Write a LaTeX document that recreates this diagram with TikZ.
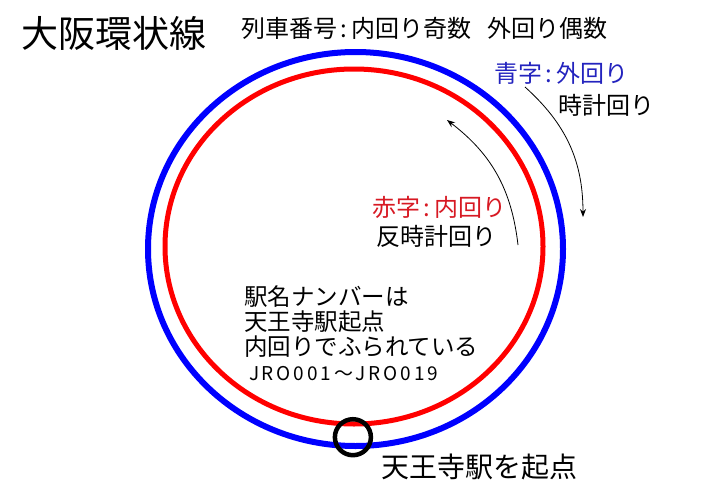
\documentclass[tikz,border=0pt]{standalone}
\usepackage{fontspec}
\setmainfont{Noto Sans CJK JP}
\usetikzlibrary{positioning}
\usetikzlibrary{arrows.meta, calc, shapes}
\definecolor{outerblue}{RGB}{35,35,190}
\definecolor{innerred}{RGB}{215,25,35}

\begin{document}
\begin{tikzpicture}
  [
    x=1pt, y=1pt,
    every node/.style={inner sep=0pt, outer sep=0pt},
    align=left
  ]
      \tikzset{
        >={Stealth[length=8pt,width=6pt]},
        base/.style = {anchor=west, font=\fontsize{24}{25}\selectfont},
        titlestyle/.style = {base, font=\fontsize{37}{40}\selectfont},
        headerstyle/.style = {base},
        outerstyle/.style = {base, text=outerblue},
        innerstyle/.style = {base, text=innerred},
        notestyle/.style = {base, anchor=north west, font=\fontsize{23.5}{25}\selectfont},
        numberstyle/.style = {base, font=\fontsize{19}{20}\selectfont\addfontfeature{LetterSpace=15}},
        loopstyle/.style = {ellipse, draw, inner sep=0pt},
        markerstyle/.style = {circle, draw=black, line width=4.5pt, minimum size=36pt},
        dirarrow/.style = {->, line width=0.8pt},
    }
    \useasboundingbox (0,0) rectangle (720,-490);

    % the two loops
    \node (outerloop) [loopstyle, draw=blue, line width=6pt, minimum width=415pt, minimum height=394pt] at (355.5,-249) {};
    \node (innerloop) [loopstyle, draw=red, line width=5pt, minimum width=378pt, minimum height=355pt] at (354,-246.5) {};
    \node (tennoji) [markerstyle] at ($(outerloop.south)!0.4!(innerloop.south)+(-2,0)$) {};

    \node (title) [titlestyle] at (21,-33) {大阪環状線};
    \node (trainno) [headerstyle] at (241,-28) {列車番号\,:\,内回り奇数\hspace{0.65em}外回り偶数};

    \node (outerlabel) [outerstyle] at (494,-73) {青字\,:\,外回り};
    \node (clockwise) [base, below right=10pt and 64pt of outerlabel.south west] {時計回り};
    \node (innerlabel) [innerstyle] at (372,-207) {赤字\,:\,内回り};
    \node (anticlockwise) [base, below right=7pt and 4pt of innerlabel.south west] {反時計回り};

    \node (notice) [notestyle] at (244,-286) {駅名ナンバーは\\天王寺駅起点\\内回りでふられている};
    \node (numbering) [numberstyle, below right=8.5pt and 5pt of notice.south west] {JRO001～JRO019};
    \node (startlabel) [base, font=\fontsize{28}{30}\selectfont] at (381,-467) {天王寺駅を起点};

    % direction arrows
    \coordinate (cwfrom) at (525,-87);
    \coordinate (cwto) at (583,-217);
    \coordinate (ccwfrom) at (518,-245);
    \coordinate (ccwto) at (447,-120);
    \draw[dirarrow] (cwfrom) to[bend left=24] (cwto);
    \draw[dirarrow] (ccwfrom) to[bend right=23] (ccwto);
\end{tikzpicture}
\end{document}
